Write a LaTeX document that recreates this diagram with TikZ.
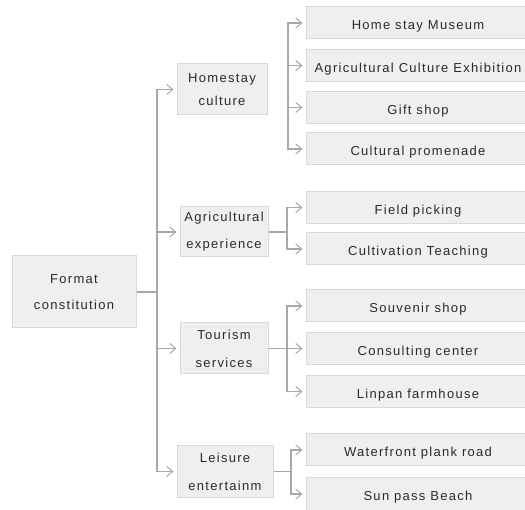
\documentclass[tikz,border=0pt]{standalone}
\usepackage{fontspec}
\setmainfont{Liberation Sans}[LetterSpace=10]
\usetikzlibrary{arrows.meta}
\definecolor{boxfill}{HTML}{EFEFEF}
\definecolor{boxline}{HTML}{D8D8D8}
\definecolor{linecol}{HTML}{A8A8A8}
\definecolor{txt}{HTML}{2A2A2A}
\tikzset{
  box/.style={draw=boxline, line width=1pt, fill=boxfill, text=txt, align=center, inner sep=0pt,
    font=\fontsize{13}{26}\selectfont},
  leaf/.style={box, minimum width=224pt, minimum height=32pt, text height=13.4pt, text depth=0pt},
  conn/.style={draw=linecol, line width=1.3pt},
  arr/.style={conn, -{Straight Barb[length=6pt,width=10pt,line width=1pt]}, shorten >=3pt},
}
\begin{document}
\begin{tikzpicture}[x=1pt,y=-1pt]
\useasboundingbox (0,0) rectangle (525,510);
% root
\node[box, minimum width=124pt, minimum height=72pt] (root) at (74,292) {Format\\constitution};
% level 1
\node[box, minimum width=90pt, minimum height=51pt, font=\fontsize{13}{23}\selectfont] (home) at (222,89.5) {Homestay\\culture};
\node[box, minimum width=88pt, minimum height=50pt, font=\fontsize{13}{27}\selectfont] (agri) at (224,232) {Agricultural\\experience};
\node[box, minimum width=88pt, minimum height=51pt, font=\fontsize{13}{28}\selectfont] (tour) at (224,348.5) {Tourism\\services};
\node[box, minimum width=96pt, minimum height=51pt, font=\fontsize{13}{28}\selectfont] (leis) at (225,471.5) {Leisure\\entertainm};
% leaves
\node[leaf] (h1) at (418,23) {Home stay Museum};
\node[leaf] (h2) at (418,65.5) {Agricultural Culture Exhibition};
\node[leaf] (h3) at (418,107.5) {Gift shop};
\node[leaf] (h4) at (418,149) {Cultural promenade};
\node[leaf] (a1) at (418,207.5) {Field picking};
\node[leaf] (a2) at (418,249) {Cultivation Teaching};
\node[leaf] (t1) at (418,306) {Souvenir shop};
\node[leaf] (t2) at (418,348.5) {Consulting center};
\node[leaf] (t3) at (418,391.5) {Linpan farmhouse};
\node[leaf] (w1) at (418,450) {Waterfront plank road};
\node[leaf] (w2) at (418,494) {Sun pass Beach};
% coordinates
\coordinate (trunk) at (157,292);
\coordinate (hb) at (288,89);
\coordinate (ab) at (287,232);
\coordinate (tb) at (287,348.5);
\coordinate (lb) at (291,471.5);
% root to level 1
\draw[conn] (root.east) -- (trunk);
\draw[arr] (trunk) |- (home.west);
\draw[arr] (trunk) |- (agri.west);
\draw[arr] (trunk) |- (tour.west);
\draw[arr] (trunk) |- (leis.west);
% homestay branch
\draw[arr] (hb) |- (h1.west);
\draw[arr] (hb) |- (h2.west);
\draw[arr] (hb) |- (h3.west);
\draw[arr] (hb) |- (h4.west);
% agricultural branch
\draw[conn] (agri.east) -- (ab);
\draw[arr] (ab) |- (a1.west);
\draw[arr] (ab) |- (a2.west);
% tourism branch
\draw[conn] (tour.east) -- (tb);
\draw[arr] (tb) |- (t1.west);
\draw[arr] (tb) |- (t2.west);
\draw[arr] (tb) |- (t3.west);
% leisure branch
\draw[conn] (leis.east) -- (lb);
\draw[arr] (lb) |- (w1.west);
\draw[arr] (lb) |- (w2.west);
\end{tikzpicture}
\end{document}
